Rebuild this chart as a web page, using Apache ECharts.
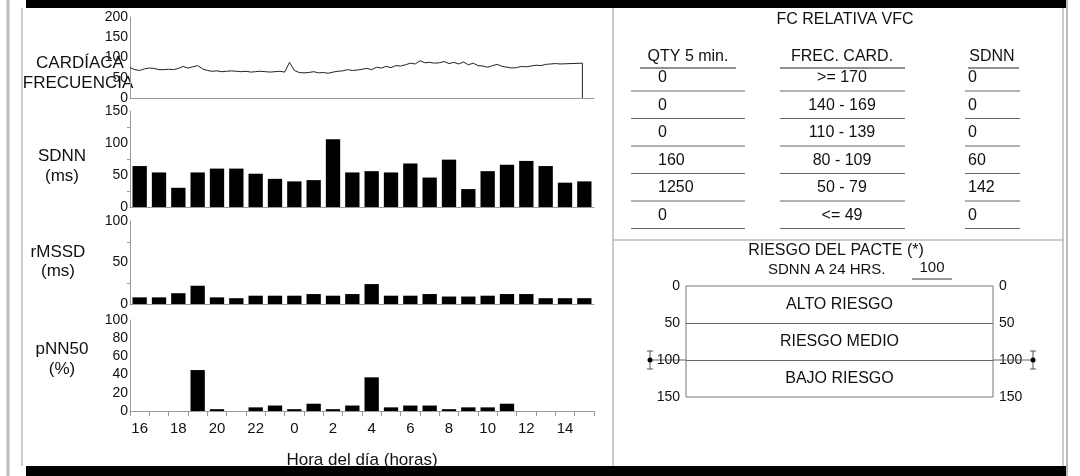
<!DOCTYPE html>
<html><head><meta charset="utf-8">
<script src="https://cdn.jsdelivr.net/npm/echarts@6/dist/echarts.min.js"></script>
<style>html,body{margin:0;padding:0;background:#fff}#c{width:1080px;height:476px}</style>
</head><body><div id="c"></div>
<script>
// horas del dia
var hours = ['16','17','18','19','20','21','22','23','0','1','2','3','4','5','6','7','8','9','10','11','12','13','14','15'];
var sdnn = [64,54,30,54,60,60,52,44,40,42,106,54,56,54,68,46,74,28,56,66,72,64,38,40];
var rmssd = [8,8,13,22,8,7,10,10,10,12,10,12,24,10,10,12,9,9,10,12,12,7,7,7];
var pnn50 = [0,0,0,45,2,0,4,6,2,8,2,6,37,4,6,6,2,4,4,8,0,0,0,0];
// frecuencia cardiaca cada 15 min
var hrValues = [75,70,68,72,74,73,70,70, 71,70,73,78,74,77,80,72, 68,66,67,65,66,67,66,65,
  66,64,65,66,65,64,65,66, 64,88,68,63,62,63,65,62, 63,61,64,66,67,70,68,69, 71,73,70,76,74,78,75,80,
  79,82,86,84,92,87,88,86, 87,90,85,88,84,89,82,86, 80,79,76,80,83,78,76,74, 75,78,77,79,81,80,83,84, 85,84];
var hrLast = [[23.4, 86], [23.4, 0]];
var tableHead = ['QTY 5 min.', 'FREC. CARD.', 'SDNN'];
var tableQty = ['0','0','0','160','1250','0'];
var tableFc = ['>= 170','140 - 169','110 - 139','80 - 109','50 - 79','<= 49'];
var tableSdnn = ['0','0','0','60','142','0'];
var riskBands = [['ALTO RIESGO',0,50],['RIESGO MEDIO',50,100],['BAJO RIESGO',100,150]];
var sdnn24 = 100;

var hrData = hrValues.map(function(v, i) { return [i * 0.25, v]; }).concat(hrLast);
var font = '"Liberation Sans", Arial, sans-serif';
var ink = '#111';
var X0 = 130, W = 464;

function catAxis(idx, showLabels) {
  return {
    type: 'category', gridIndex: idx, data: hours,
    axisLine: {lineStyle: {color: '#999'}},
    axisTick: {show: showLabels, interval: 0, lineStyle: {color: '#999'}},
    axisLabel: {show: showLabels, interval: 1, color: ink, fontSize: 15, fontFamily: font, margin: 10}
  };
}
function valAxis(idx, max, interval, minor) {
  return {
    type: 'value', gridIndex: idx, min: 0, max: max, interval: interval,
    axisLine: {show: true, lineStyle: {color: '#999'}},
    axisTick: {show: false},
    minorTick: {show: !!minor, splitNumber: 2, length: 3, lineStyle: {color: '#999'}},
    splitLine: {show: false},
    axisLabel: {color: ink, fontSize: 14, fontFamily: font, margin: 2}
  };
}
function bars(idx, data) {
  return {type: 'bar', xAxisIndex: idx, yAxisIndex: idx, data: data, barCategoryGap: '26%',
    itemStyle: {color: '#000'}, silent: true};
}

var gfx = [];
function txt(x, y, s, size, align) {
  gfx.push({type: 'text', x: x, y: y, style: {text: s, fontSize: size || 16, fontFamily: font, fill: ink,
    align: align || 'center', verticalAlign: 'middle'}});
}
function line(x1, y1, x2, y2, w, c) {
  gfx.push({type: 'line', shape: {x1: x1, y1: y1, x2: x2, y2: y2}, style: {stroke: c || '#444', lineWidth: w || 1}});
}
// marcos
gfx.push({type: 'rect', shape: {x: 26, y: 0, width: 1040, height: 8}, style: {fill: '#000'}});
gfx.push({type: 'rect', shape: {x: 26, y: 466, width: 1040, height: 10}, style: {fill: '#000'}});
line(8, 0, 8, 476, 3, '#bbb');
line(1067, 0, 1067, 476, 2, '#bbb');
line(22, 8, 22, 466, 1, '#999');
line(613, 8, 613, 466, 1, '#999');
line(613, 240, 1063, 240, 1, '#999');
line(1063, 8, 1063, 466, 1, '#999');
// titulos izquierda
txt(80, 63, 'CARDÍACA', 17); txt(78, 83, 'FRECUENCIA', 17);
txt(62, 156, 'SDNN', 17); txt(62, 176, '(ms)', 17);
txt(58, 252, 'rMSSD', 17); txt(58, 271, '(ms)', 17);
txt(62, 349, 'pNN50', 17); txt(62, 369, '(%)', 17);
txt(362, 460, 'Hora del día (horas)', 17);
// tabla
txt(845, 20, 'FC RELATIVA VFC', 16);
txt(688, 57, tableHead[0], 16); line(640, 68, 736, 68, 1.2, '#222');
txt(842, 57, tableHead[1], 16); line(780, 68, 905, 68, 1.2, '#222');
txt(992, 57, tableHead[2], 16); line(968, 68, 1019, 68, 1.2, '#222');
for (var i = 0; i < tableQty.length; i++) {
  var y = 78 + i * 27.5;
  txt(658, y, tableQty[i], 16, 'left'); line(631, y + 13, 745, y + 13, 1, '#666');
  txt(842, y, tableFc[i], 16); line(780, y + 13, 905, y + 13, 1, '#666');
  txt(968, y, tableSdnn[i], 16, 'left'); line(965, y + 13, 1020, y + 13, 1, '#666');
}
// riesgo
txt(836, 251, 'RIESGO DEL PACTE (*)', 16);
txt(768, 270, 'SDNN A 24 HRS.', 15, 'left');
txt(932, 268, String(sdnn24), 15); line(912, 279, 952, 279, 1, '#333');

var riskSeries = {
  type: 'line', xAxisIndex: 4, yAxisIndex: 4, data: [], symbol: 'none',
  markArea: {silent: true, itemStyle: {color: 'rgba(0,0,0,0)'},
    label: {position: 'inside', color: ink, fontSize: 16, fontFamily: font},
    data: riskBands.map(function(b) { return [{name: b[0], yAxis: b[1], xAxis: 0}, {yAxis: b[2], xAxis: 1}]; })},
  markLine: {silent: true, symbol: 'none', label: {show: false}, lineStyle: {color: '#666', type: 'solid', width: 1},
    data: riskBands.slice(1).map(function(b) { return {yAxis: b[1]}; })}
};

var chart = echarts.init(document.getElementById('c'));
chart.setOption({
  animation: false,
  textStyle: {fontFamily: font},
  grid: [
    {left: X0, width: W, top: 17, height: 81},
    {left: X0, width: W, top: 111, height: 96},
    {left: X0, width: W, top: 221, height: 83},
    {left: X0, width: W, top: 320, height: 91},
    {left: 686, width: 307, top: 286, height: 111, show: true, borderColor: '#777', borderWidth: 1}
  ],
  xAxis: [
    {type: 'value', gridIndex: 0, min: 0, max: 24, show: true, axisLine: {lineStyle: {color: '#999'}},
      axisTick: {show: false}, axisLabel: {show: false}, splitLine: {show: false}},
    catAxis(1, false), catAxis(2, false), catAxis(3, true),
    {type: 'value', gridIndex: 4, min: 0, max: 1, show: false}
  ],
  yAxis: [
    valAxis(0, 200, 50, false), valAxis(1, 150, 50, true), valAxis(2, 100, 50, true), valAxis(3, 100, 20, false),
    {type: 'value', gridIndex: 4, inverse: true, min: 0, max: 150, interval: 50, axisLine: {show: false},
      axisTick: {show: false}, splitLine: {show: false},
      axisLabel: {color: ink, fontSize: 14, fontFamily: font, margin: 6, showMinLabel: true, showMaxLabel: true}}
  ],
  series: [
    {type: 'line', xAxisIndex: 0, yAxisIndex: 0, data: hrData, symbol: 'none',
      lineStyle: {color: '#222', width: 1}},
    bars(1, sdnn), bars(2, rmssd), bars(3, pnn50), riskSeries
  ],
  graphic: gfx
});
// etiquetas derechas y marcadores del riesgo
var extra = [];
[0, 50, 100, 150].forEach(function(v) {
  var p = chart.convertToPixel({gridIndex: 4}, [1, v]);
  extra.push({type: 'text', x: p[0] + 6, y: p[1], style: {text: String(v), fontSize: 14, fontFamily: font, fill: ink, verticalAlign: 'middle'}});
});
[[0, -36], [1, 40]].forEach(function(m) {
  var p = chart.convertToPixel({gridIndex: 4}, [m[0], sdnn24]);
  var x = p[0] + m[1];
  extra.push({type: 'line', shape: {x1: x, y1: p[1] - 9, x2: x, y2: p[1] + 9}, style: {stroke: '#555', lineWidth: 1}});
  extra.push({type: 'line', shape: {x1: x - 3, y1: p[1] - 9, x2: x + 3, y2: p[1] - 9}, style: {stroke: '#555'}});
  extra.push({type: 'line', shape: {x1: x - 3, y1: p[1] + 9, x2: x + 3, y2: p[1] + 9}, style: {stroke: '#555'}});
  extra.push({type: 'line', shape: {x1: x, y1: p[1], x2: m[0] ? x - 40 : x + 36, y2: p[1]}, style: {stroke: '#666'}});
  extra.push({type: 'circle', shape: {cx: x, cy: p[1], r: 2.5}, style: {fill: '#000'}});
});
chart.setOption({graphic: gfx.concat(extra)});
</script></body></html>
